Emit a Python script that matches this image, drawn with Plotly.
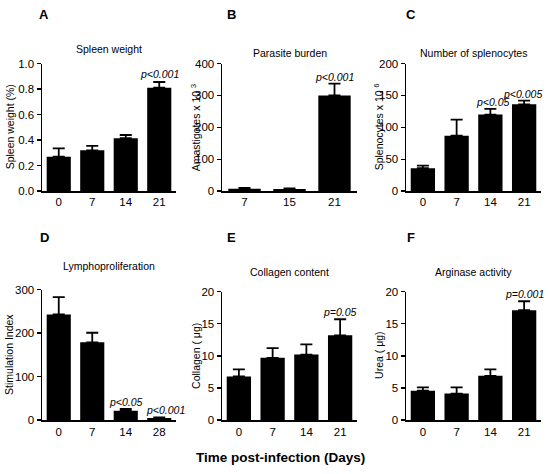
import plotly.graph_objects as go

W, H = 549, 474

# ---- data ----
cat_a = ["0", "7", "14", "21"]
spleen_weight = [0.27, 0.32, 0.415, 0.81]
spleen_weight_err = [0.065, 0.035, 0.025, 0.045]

cat_b = ["7", "15", "21"]
parasite_burden = [8, 7, 300]
parasite_burden_err = [2, 1.5, 37]

cat_c = ["0", "7", "14", "21"]
splenocytes = [36, 87, 120, 136]
splenocytes_err = [4, 25, 9, 6]

cat_d = ["0", "7", "14", "28"]
stim_index = [243, 179, 22, 5]
stim_index_err = [40, 22, 4, 1.5]

cat_e = ["0", "7", "14", "21"]
collagen = [6.8, 9.7, 10.2, 13.2]
collagen_err = [1.1, 1.5, 1.6, 2.5]

cat_f = ["0", "7", "14", "21"]
urea = [4.6, 4.15, 6.9, 17.1]
urea_err = [0.5, 0.95, 1.0, 1.4]

titles = ["Spleen weight", "Parasite burden", "Number of splenocytes",
          "Lymphoproliferation", "Collagen content", "Arginase activity"]
ytitles = ["Spleen weight (%)", "Amastigotes x 10 <sup>3</sup>", "Splenocytes x 10 <sup>6</sup>",
           "Stimulation Index", "Collagen ( \u03bcg)", "Urea ( \u03bcg)"]
letters = ["A", "B", "C", "D", "E", "F"]
yranges = [[0, 1.0], [0, 400], [0, 200], [0, 300], [0, 20], [0, 20]]
dticks = [0.2, 100, 50, 100, 5, 5]
tickfmts = [".1f", "d", "d", "d", "d", "d"]
# (category index, y value, text, x shift)
pvals = [
    [(3, 0.86, "p<0.001", 0)],
    [(2, 337, "p<0.001", 0)],
    [(2, 129, "p<0.05", 3), (3, 142, "p<0.005", -2)],
    [(2, 26, "p<0.05", 0), (3, 6.5, "p<0.001", 6)],
    [(3, 15.7, "p=0.05", 0)],
    [(3, 18.5, "p=0.001", 0)],
]

cats = [cat_a, cat_b, cat_c, cat_d, cat_e, cat_f]
vals = [spleen_weight, parasite_burden, splenocytes, stim_index, collagen, urea]
errs = [spleen_weight_err, parasite_burden_err, splenocytes_err, stim_index_err, collagen_err, urea_err]

# pixel boxes (x0, x1, ytop, ybottom)
boxes = [
    (42, 176, 59, 190),
    (222, 357, 59, 190),
    (406, 541, 59, 190),
    (42, 176, 291, 425),
    (222, 357, 293, 425),
    (406, 541, 293, 425),
]
title_y = [44, 48, 48, 267, 273, 273]
ytitle_x = [10, 195, 378, 9, 196, 379]
letter_pos = [(44, 9), (231, 9), (411, 9), (44, 237), (231, 237), (411, 237)]


def px(x):
    return x / W


def py(y):
    return 1 - y / H


FONT = "Liberation Sans, Arial, sans-serif"
fig = go.Figure()
layout = dict(width=W, height=H, margin=dict(l=0, r=0, t=0, b=0),
              paper_bgcolor="white", plot_bgcolor="white", showlegend=False,
              bargap=0.28,
              font=dict(family=FONT, color="black"), annotations=[])

for i in range(6):
    n = i + 1
    xa = "x" if n == 1 else f"x{n}"
    ya = "y" if n == 1 else f"y{n}"
    x0, x1, yt, yb = boxes[i]
    fig.add_trace(go.Bar(
        x=list(range(len(cats[i]))), y=vals[i], xaxis=xa, yaxis=ya,
        marker=dict(color="black", line=dict(width=0)),
        error_y=dict(type="data", array=errs[i], arrayminus=[0] * len(errs[i]),
                     symmetric=False, color="black", thickness=1.8, width=6),
        hoverinfo="skip",
    ))
    nc = len(cats[i])
    layout["xaxis" if n == 1 else f"xaxis{n}"] = dict(
        domain=[px(x0), px(x1)], anchor=ya, range=[-0.5, nc - 0.5],
        tickmode="array", tickvals=list(range(nc)), ticktext=cats[i],
        showline=True, linecolor="black", linewidth=1.5, ticks="",
        showgrid=False, zeroline=False, tickfont=dict(size=11.5, family=FONT),
        fixedrange=True)
    layout["yaxis" if n == 1 else f"yaxis{n}"] = dict(
        domain=[py(yb), py(yt)], anchor=xa, range=yranges[i],
        dtick=dticks[i], tickformat=tickfmts[i],
        showline=True, linecolor="black", linewidth=1.5, ticks="outside",
        ticklen=4, tickwidth=1.5, tickcolor="black", fixedrange=True,
        showgrid=False, zeroline=False, tickfont=dict(size=11.5, family=FONT))
    cx = (x0 + x1) / 2
    layout["annotations"].append(dict(
        x=px(cx), y=py(title_y[i]), xref="paper", yref="paper",
        text=titles[i], showarrow=False, font=dict(size=10.5, family=FONT),
        xanchor="center", yanchor="middle"))
    layout["annotations"].append(dict(
        x=px(ytitle_x[i]), y=py((yt + yb) / 2), xref="paper", yref="paper",
        text=ytitles[i], showarrow=False, textangle=-90,
        font=dict(size=10.5, family=FONT), xanchor="center", yanchor="middle"))
    lx, ly = letter_pos[i]
    layout["annotations"].append(dict(
        x=px(lx), y=py(ly), xref="paper", yref="paper",
        text=f"<b>{letters[i]}</b>", showarrow=False,
        font=dict(size=13, family=FONT), xanchor="center", yanchor="middle"))
    for (c, yv, txt, xs) in pvals[i]:
        layout["annotations"].append(dict(
            x=c, y=yv, xref=xa, yref=ya, text=f"<i>{txt}</i>", showarrow=False,
            font=dict(size=10.5, family=FONT), xanchor="center", yanchor="bottom",
            xshift=xs, yshift=-1))

layout["annotations"].append(dict(
    x=px(280), y=py(463), xref="paper", yref="paper",
    text="<b>Time post-infection (Days)</b>", showarrow=False,
    font=dict(size=13.5, family=FONT), xanchor="center", yanchor="middle"))

fig.update_layout(**layout)
fig.write_html("out.html", config={"displayModeBar": False, "staticPlot": True},
               post_script="document.body.style.margin='0';document.body.style.overflow='hidden';")
